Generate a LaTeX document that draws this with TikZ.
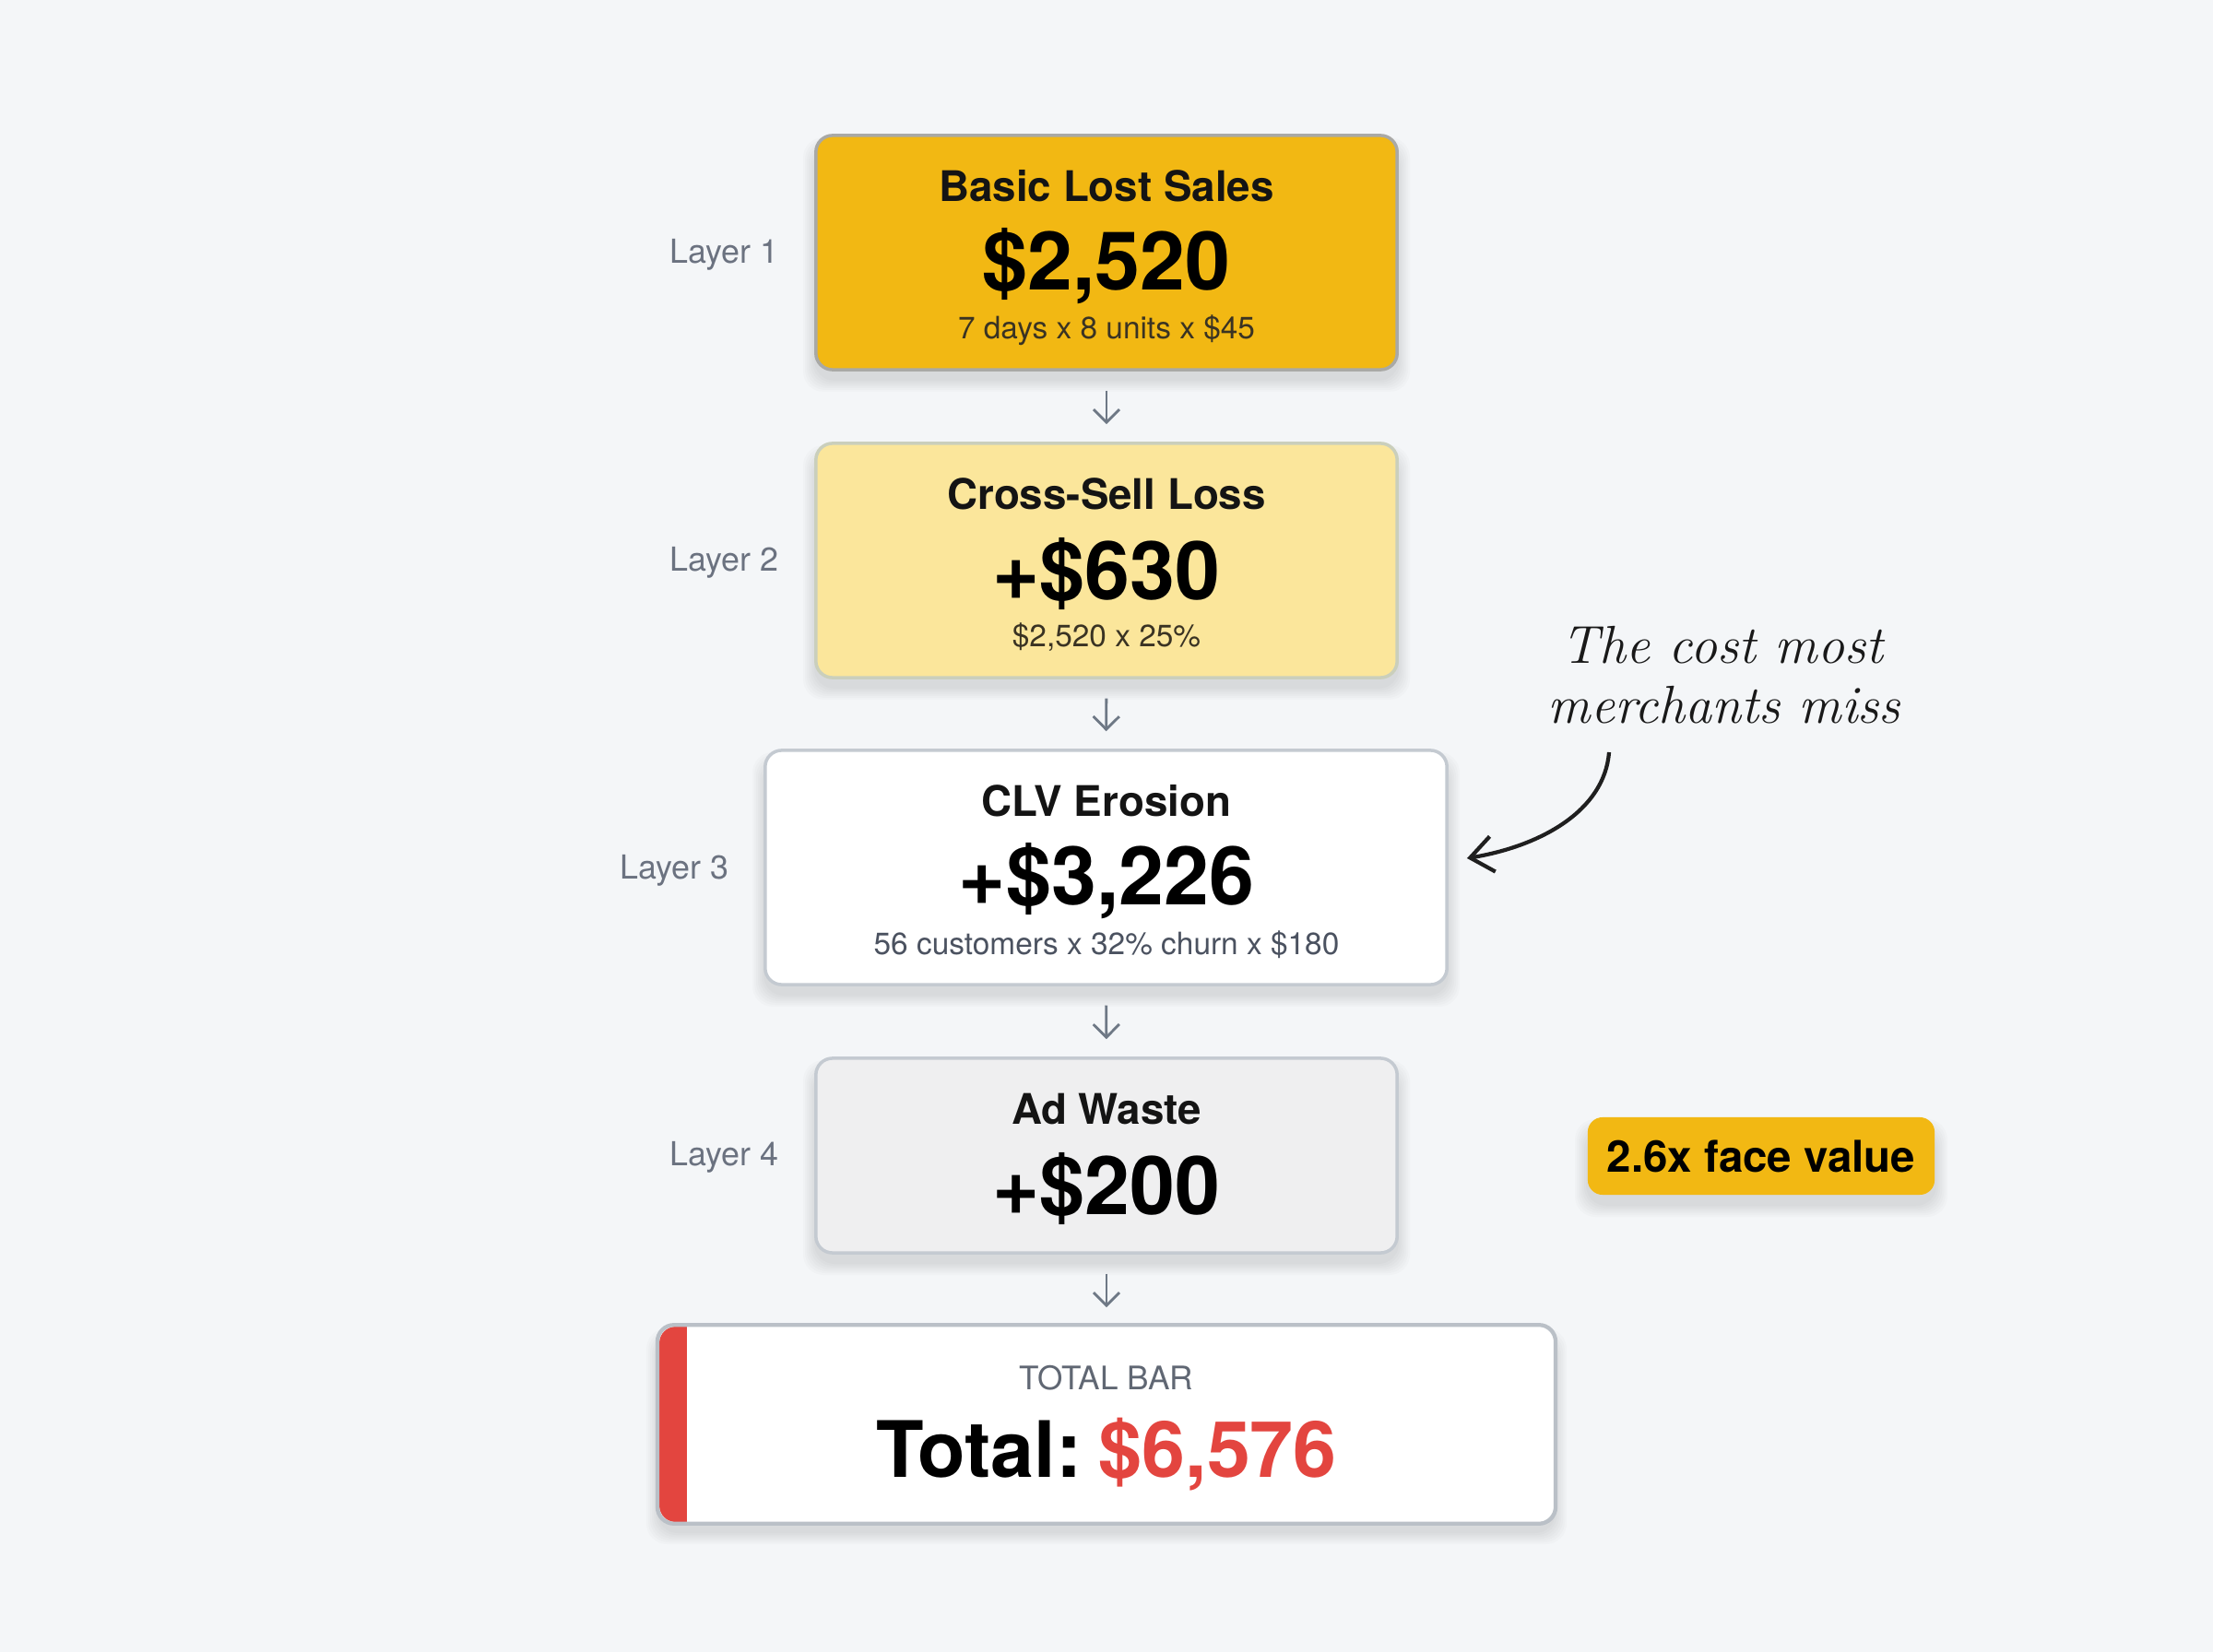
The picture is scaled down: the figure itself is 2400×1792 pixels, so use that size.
\documentclass[tikz,border=0pt]{standalone}
\usepackage{fontspec}
\setmainfont{TeX Gyre Heros}
\newfontfamily\handfont{Latin Modern Roman}
\usetikzlibrary{arrows.meta,calc}
\definecolor{bgc}{HTML}{F4F6F8}
\definecolor{amber}{HTML}{F2B813}
\definecolor{paleyel}{HTML}{FBE69B}
\definecolor{greyfill}{HTML}{EFEFF0}
\definecolor{bord}{HTML}{C4CAD1}
\definecolor{bordy}{HTML}{A9A9A6}
\definecolor{txtgray}{HTML}{6B7280}
\definecolor{arrgray}{HTML}{6E7885}
\definecolor{redc}{HTML}{E3453F}
\definecolor{subdark}{HTML}{3A3323}
\definecolor{subgray}{HTML}{4B5260}
\newcommand\softshadow[4]{%
  \foreach \s in {2,4,...,14}{%
    \fill[black,opacity=0.016,rounded corners=0.22cm] (#1-\s,#2-\s+16) rectangle (#3+\s,#4+\s+10);}}
\tikzset{
  card/.style={draw, rounded corners=0.18cm, line width=1pt, inner sep=0pt},
  ttl/.style={font=\fontsize{13}{15}\selectfont\bfseries, text=black!92},
  val/.style={font=\fontsize{25}{28}\selectfont\bfseries, text=black},
  sub/.style={font=\fontsize{9.5}{11}\selectfont},
  lay/.style={font=\fontsize{10.2}{12}\selectfont, text=txtgray, anchor=east},
  flow/.style={draw=arrgray, line width=0.8pt, -{Straight Barb[length=4pt,width=8pt]}, shorten <=5.9pt, shorten >=5.4pt},
  hand/.style={font=\fontsize{16.5}{19}\handfont\itshape, text=black!90}
}
\begin{document}
\begin{tikzpicture}[x=0.01cm,y=-0.01cm]
\useasboundingbox (0,0) rectangle (2400,1792);
\fill[bgc] (0,0) rectangle (2400,1792);
% shadows
\softshadow{885}{147}{1515}{401}
\softshadow{885}{481}{1515}{735}
\softshadow{830}{814}{1569}{1068}
\softshadow{885}{1148}{1515}{1359}
\softshadow{715}{1439}{1685}{1651}
\softshadow{1722}{1212}{2098}{1296}
% boxes
\node[card, draw=bordy, fill=amber, minimum width=6.3cm, minimum height=2.54cm] (b1) at (1200,274) {};
\node[card, draw=bord!90!yellow, fill=paleyel, minimum width=6.3cm, minimum height=2.54cm] (b2) at (1200,608) {};
\node[card, draw=bord, fill=white, minimum width=7.39cm, minimum height=2.54cm] (b3) at (1199.5,941) {};
\node[card, draw=bord, fill=greyfill, minimum width=6.3cm, minimum height=2.11cm] (b4) at (1200,1253.5) {};
\node[card, draw=none, fill=white, minimum width=9.7cm, minimum height=2.12cm] (b5) at (1200,1545) {};
\begin{scope}
\clip[rounded corners=0.18cm] (715,1439) rectangle (1685,1651);
\fill[redc] (715,1439) rectangle (745,1651);
\end{scope}
\draw[draw=bord!95!black, line width=1.2pt, rounded corners=0.18cm] (b5.north west) rectangle (b5.south east);
% texts box 1
\node[ttl] (t1) at (1200,202) {Basic Lost Sales};
\node[val] (v1) at (1200,289) {\$2,520};
\node[sub, text=subdark] (s1) at (1200,358) {7 days x 8 units x \$45};
% box 2
\node[ttl] (t2) at (1200,536) {Cross-Sell Loss};
\node[val] (v2) at (1200,623) {+\$630};
\node[sub, text=subdark] (s2) at (1200,691) {\$2,520 x 25\%};
% box 3
\node[ttl] (t3) at (1200,869) {CLV Erosion};
\node[val] (v3) at (1200,956) {+\$3,226};
\node[sub, text=subgray] (s3) at (1200,1025) {56 customers x 32\% churn x \$180};
% box 4
\node[ttl] (t4) at (1200,1203) {Ad Waste};
\node[val] (v4) at (1200,1289) {+\$200};
% total
\node[font=\fontsize{10}{12}\selectfont, text=txtgray!90!black] (tb) at (1200,1495) {TOTAL BAR};
\node[font=\fontsize{24}{27}\selectfont\bfseries] (tt) at (1200,1578) {Total:\hspace{0.22em}\textcolor{redc}{\$6,576}};
% layer labels
\node[lay] (l1) at (857,276) {Layer 1};
\node[lay] (l2) at (857,610) {Layer 2};
\node[lay] (l3) at (803,944) {Layer 3};
\node[lay] (l4) at (857,1255) {Layer 4};
% flow arrows
\draw[flow] (b1.south) -- (b2.north);
\draw[flow] (b2.south) -- (b3.north);
\draw[flow] (b3.south) -- (b4.north);
\draw[flow] (b4.south) -- (b5.north);
% badge
\node[fill=amber, rounded corners=0.16cm, minimum width=3.76cm, minimum height=0.84cm, inner sep=0pt, font=\fontsize{13.5}{16}\selectfont\bfseries] (badge) at (1910,1254) {2.6x face value};
% handwritten note
\node[hand] (h1) at (1868,700) {The cost most};
\node[hand] (h2) at (1870,765) {merchants miss};
\coordinate (cs) at (1745,816);
\draw[line width=1.2pt, black!88, -{Straight Barb[length=7pt,width=11pt]}] (cs) .. controls (1740,880) and (1670,918) .. ($(b3.east)+(20,-10)$);
\end{tikzpicture}
\end{document}
